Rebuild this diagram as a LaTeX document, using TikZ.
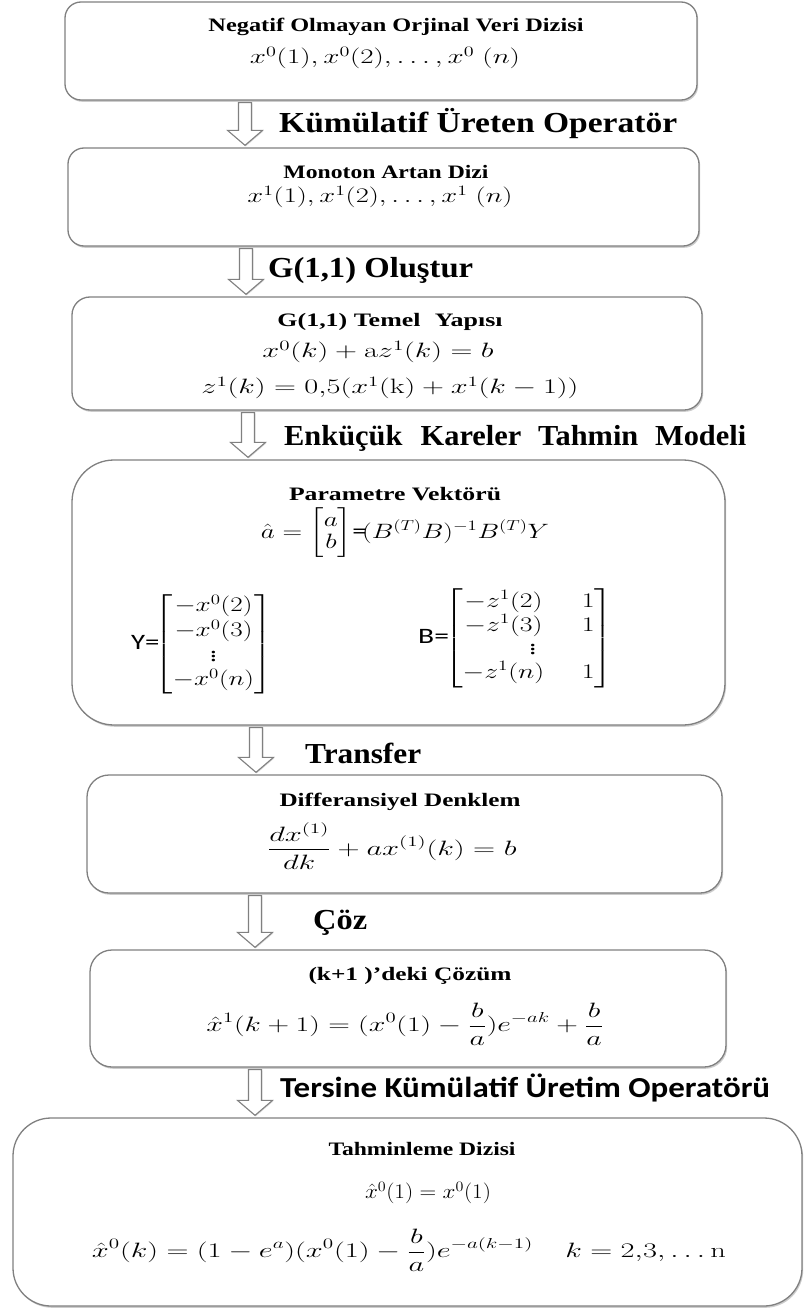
\documentclass[tikz,border=0pt]{standalone}
\usepackage{amsmath}
\usepackage{graphicx}
\usepackage[no-math]{fontspec}
\setmainfont{Liberation Serif}
\newfontfamily\calib{Carlito}
\usetikzlibrary{shadows,calc}
\definecolor{boxgray}{RGB}{128,128,128}
\newcommand\wbox[2]{\resizebox{#1pt}{\height}{#2}}
\tikzset{
 box/.style={draw=boxgray, line width=1.3pt, rounded corners=#1, fill=white, inner sep=0pt,
   drop shadow={shadow xshift=1.2pt, shadow yshift=-1.8pt, opacity=0.4, fill=black!50}},
 barrow/.style={draw=boxgray, line width=1.1pt, fill=white,
   drop shadow={shadow xshift=0.8pt, shadow yshift=-1pt, opacity=0.3, fill=black!50}},
 ttl/.style={font=\fontsize{19}{21}\selectfont\bfseries, inner sep=0pt},
 lbl/.style={font=\fontsize{29}{32}\selectfont\bfseries, anchor=west, inner sep=0pt},
 lblsans/.style={font=\fontsize{29}{32}\selectfont\calib\bfseries, anchor=west, inner sep=0pt},
 eq/.style={font=\fontsize{22}{26}\selectfont, inner sep=0pt},
}
\newcommand\blockarrow[3]{%
 \draw[barrow] let \p1=(#2.south), \p2=(#3.north) in
  (#1pt-6.5pt,\y1-2pt) -- (#1pt+6.5pt,\y1-2pt) -- (#1pt+6.5pt,\y2+17pt)
  -- (#1pt+17.5pt,\y2+17pt) -- (#1pt,\y2+2pt) -- (#1pt-17.5pt,\y2+17pt)
  -- (#1pt-6.5pt,\y2+17pt) -- cycle;}
\begin{document}
\begin{tikzpicture}[x=1pt,y=-1pt]
\useasboundingbox (0,0) rectangle (805,1308);
\fill[white] (0,0) rectangle (805,1308);
% boxes
\node[box=16pt, minimum width=632pt, minimum height=98pt] (b1) at (381,51) {};
\node[box=16pt, minimum width=631pt, minimum height=98pt] (b2) at (383.5,197) {};
\node[box=18pt, minimum width=630pt, minimum height=113pt] (b3) at (387,353.5) {};
\node[box=42pt, minimum width=653pt, minimum height=265pt] (b4) at (398.5,592.5) {};
\node[box=22pt, minimum width=635pt, minimum height=118pt] (b5) at (404.5,834) {};
\node[box=22pt, minimum width=636pt, minimum height=117pt] (b6) at (408,1008.5) {};
\node[box=38pt, minimum width=789pt, minimum height=188pt] (b7) at (407.5,1212) {};
% arrows
\blockarrow{245}{b1}{b2}
\blockarrow{246}{b2}{b3}
\blockarrow{248}{b3}{b4}
\blockarrow{256}{b4}{b5}
\blockarrow{255}{b5}{b6}
\blockarrow{255}{b6}{b7}
% arrow labels
\node[lbl] (l1) at (279,124) {\wbox{398}{Kümülatif Üreten Operatör}};
\node[lbl] (l2) at (268,271) {\wbox{205}{G(1,1) Oluştur}};
\node[lbl] (l3) at (284,438) {\wbox{462}{Enküçük\hspace{0.35em} Kareler\hspace{0.3em} Tahmin\hspace{0.3em} Modeli}};
\node[lbl] (l4) at (305,753) {\wbox{116}{Transfer}};
\node[lbl] (l5) at (313,923) {\wbox{54}{Çöz}};
\node[lblsans] (l6) at (280,1088) {\wbox{490}{Tersine Kümülatif Üretim Operatörü}};
% box 1
\node[ttl] (t1) at (396,27) {\wbox{375}{Negatif Olmayan Orjinal Veri Dizisi}};
\node[eq] (f1) at (385,58) {\wbox{270}{$x^0(1),x^0(2),\ldots,x^0\;(n)$}};
% box 2
\node[ttl] (t2) at (386,172) {\wbox{205}{Monoton Artan Dizi}};
\node[eq] (f2) at (380,197) {\wbox{265}{$x^1(1),x^1(2),\ldots,x^1\;(n)$}};
% box 3
\node[ttl] (t3) at (390,322) {\wbox{225}{G(1,1) Temel\hspace{0.3em} Yapısı}};
\node[eq] (f3a) at (378,352) {\wbox{231}{$x^0(k)+\mathrm{a}z^1(k)=b$}};
\node[eq] (f3b) at (390,388) {\wbox{377}{$z^1(k)=0{,}5(x^1(\mathrm{k})+x^1(k-1))$}};
% box 4
\node[ttl] (t4) at (395,494) {\wbox{212}{Parametre Vektörü}};
\node[eq] (f4) at (405,533) {\wbox{288}{$\hat{a}=\renewcommand\arraystretch{0.85}\setlength\arraycolsep{1pt}\begin{bmatrix}a\\ b\end{bmatrix}\!\mbox{\calib=}\!(B^{(T)}B)^{-1}B^{(T)}Y$}};
\node[eq, anchor=west] (ym) at (131,644) {\wbox{141}{{\calib Y=}\!$\renewcommand\arraystretch{0.95}\setlength\arraycolsep{1pt}\begin{bmatrix}-x^0(2)\\ -x^0(3)\\ \vdots\\ -x^0(n)\end{bmatrix}$}};
\node[eq, anchor=west] (bm) at (418,638) {\wbox{195}{{\calib B=}\!$\renewcommand\arraystretch{0.9}\setlength\arraycolsep{3pt}\begin{bmatrix}-z^1(2) & \quad 1\\ -z^1(3) & \quad 1\\ \hfill\vdots\; & \\ -z^1(n) & \quad 1\end{bmatrix}$}};
% box 5
\node[ttl] (t5) at (400,802) {\wbox{241}{Differansiyel Denklem}};
\node[eq] (f5) at (392,846) {\wbox{249}{$\displaystyle \frac{dx^{(1)}}{dk}+ax^{(1)}(k)=b$}};
% box 6
\node[ttl] (t6) at (410,976) {\wbox{203}{(k+1 )'deki Çözüm}};
\node[eq] (f6) at (405,1024) {\wbox{397}{$\displaystyle \hat{x}^1(k+1)=(x^0(1)-\frac{b}{a})e^{-ak}+\frac{b}{a}$}};
% box 7
\node[ttl] (t7) at (422,1149) {\wbox{187}{Tahminleme Dizisi}};
\node[eq] (f7a) at (428,1193) {\wbox{126}{$\hat{x}^0(1)=x^0(1)$}};
\node[eq] (f7b) at (409,1250) {\wbox{634}{$\displaystyle \hat{x}^0(k)=(1-e^{a})(x^0(1)-\frac{b}{a})e^{-a(k-1)}\quad k=2{,}3,\ldots\mathrm{n}$}};
\end{tikzpicture}
\end{document}
